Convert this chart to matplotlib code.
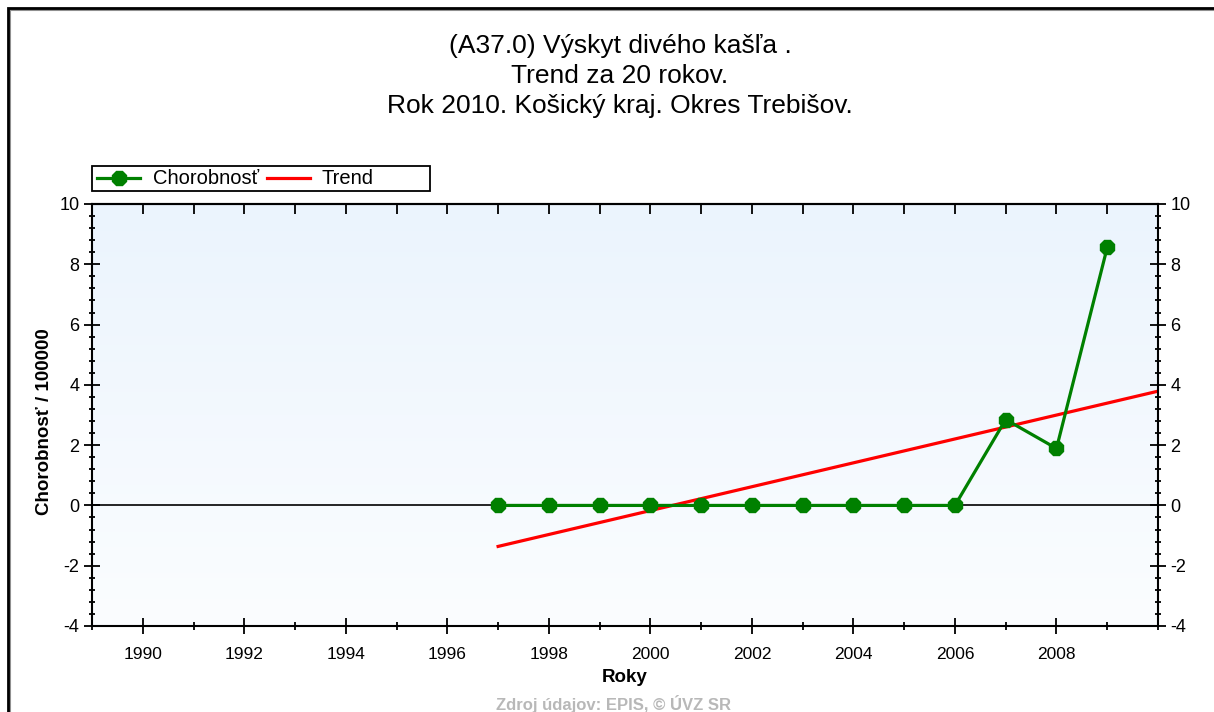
import numpy as np
import matplotlib
matplotlib.use("Agg")
import matplotlib.pyplot as plt
from matplotlib.patches import Rectangle
from matplotlib.lines import Line2D
from matplotlib.ticker import MultipleLocator
from matplotlib.colors import LinearSegmentedColormap

plt.rcParams['font.family'] = ['Liberation Sans', 'DejaVu Sans']
plt.rcParams['axes.unicode_minus'] = False

years = [1997, 1998, 1999, 2000, 2001, 2002, 2003, 2004, 2005, 2006, 2007, 2008, 2009]
morbidity = [0, 0, 0, 0, 0, 0, 0, 0, 0, 0, 2.85, 1.89, 8.56]
trend_years = [1997, 2010]
trend_values = [-1.36, 3.79]
xtick_years = [1990, 1992, 1994, 1996, 1998, 2000, 2002, 2004, 2006, 2008]
ytick_values = [-4, -2, 0, 2, 4, 6, 8, 10]

title = "(A37.0) Výskyt divého kašľa .\nTrend za 20 rokov.\nRok 2010. Košický kraj. Okres Trebišov."
series_name = "Chorobnosť"
trend_name = "Trend"
ylabel = "Chorobnosť / 100000"
xlabel = "Roky"
source = "Zdroj údajov: EPIS, © ÚVZ SR"

GREEN = '#008000'
RED = '#ff0000'

W, H = 1214, 712
fig = plt.figure(figsize=(W / 100, H / 100), dpi=100)
fig.patch.set_facecolor('white')


def fx(px):
    return px / W


def fy(py):
    return 1 - py / H


# outer frame (top and left visible)
fig.patches.append(Rectangle((fx(10), -0.1), 1.2, fy(10) + 0.1, transform=fig.transFigure,
                             fill=False, edgecolor='#909090', linewidth=1.5, zorder=0))
fig.patches.append(Rectangle((fx(8), -0.1), 1.2, fy(8) + 0.1, transform=fig.transFigure,
                             fill=False, edgecolor='black', linewidth=2, zorder=0))

ax = fig.add_axes([fx(92), fy(626), fx(1158) - fx(92), fy(204) - fy(626)])
ax.set_xlim(1989, 2010)
ax.set_ylim(-4, 10)

# gradient background
grad = np.linspace(0, 1, 256).reshape(-1, 1)
cmap = LinearSegmentedColormap.from_list('bg', ['#fbfdff', '#ebf4fd'])
ax.imshow(grad, aspect='auto', cmap=cmap, extent=[1989, 2010, -4, 10], origin='lower', zorder=0)

ax.axhline(0, color='black', linewidth=1.2, zorder=1)
ax.plot(trend_years, trend_values, color=RED, linewidth=2.3, zorder=2, label=trend_name)
ax.plot(years, morbidity, color=GREEN, linewidth=2.3, marker='8', markersize=11,
        markerfacecolor=GREEN, markeredgecolor=GREEN, zorder=3, label=series_name)

for s in ax.spines.values():
    s.set_linewidth(1.5)
    s.set_color('black')

ax.set_xticks(xtick_years)
ax.xaxis.set_minor_locator(MultipleLocator(1))
ax.set_yticks(ytick_values)
ax.yaxis.set_minor_locator(MultipleLocator(0.4))
ax.tick_params(axis='y', which='major', direction='inout', length=12, width=1.3,
               left=True, right=True, labelleft=True, labelright=True, labelsize=13, pad=3)
ax.tick_params(axis='y', which='minor', direction='inout', length=5, width=1.3,
               left=True, right=True)
ax.tick_params(axis='x', which='major', direction='inout', length=12, width=1.3,
               bottom=True, top=False, labelsize=12.5, pad=9)
ax.tick_params(axis='x', which='minor', direction='inout', length=6, width=1.3,
               bottom=True, top=False)

sec = ax.secondary_xaxis('top')
sec.set_xticks(list(range(1989, 2011)))
sec.tick_params(axis='x', direction='in', length=7, width=1.3, labeltop=False)
sec.spines['top'].set_linewidth(1.5)

ax.set_ylabel(ylabel, fontsize=13.5, fontweight='bold', labelpad=1)
ax.yaxis.set_label_coords(fx(45) - fx(92), 0.5 - 7 / (626 - 204))
ax.yaxis.label.set_transform(fig.transFigure)
ax.yaxis.label.set_position((fx(45), fy(422)))
ax.yaxis.label.set_va('center')
ax.set_xlabel(xlabel, fontsize=13.5, fontweight='bold', labelpad=5)

fig.text(fx(620), fy(76), title, ha='center', va='center', fontsize=19, linespacing=1.32)

fig.text(fx(613), fy(704), source, ha='center', va='center', fontsize=12, color='#b8b8b8',
         fontweight='bold')

# legend box, drawn in figure pixel positions
fig.patches.append(Rectangle((fx(92), fy(191)), fx(430) - fx(92), fy(166) - fy(191),
                             transform=fig.transFigure, facecolor='white', edgecolor='black',
                             linewidth=1.3, zorder=5))
fig.add_artist(Line2D([fx(97), fx(140)], [fy(178), fy(178)], transform=fig.transFigure,
                      color=GREEN, linewidth=2.3, zorder=6))
fig.add_artist(Line2D([fx(119)], [fy(178)], transform=fig.transFigure, color=GREEN,
                      marker='8', markersize=11, linestyle='none', zorder=6))
fig.text(fx(153), fy(179), series_name, ha='left', va='center', fontsize=14.5, zorder=6)
fig.add_artist(Line2D([fx(267), fx(310)], [fy(178), fy(178)], transform=fig.transFigure,
                      color=RED, linewidth=2.3, zorder=6))
fig.text(fx(322), fy(179), trend_name, ha='left', va='center', fontsize=14.5, zorder=6)

fig.savefig('out.png', dpi=100)
